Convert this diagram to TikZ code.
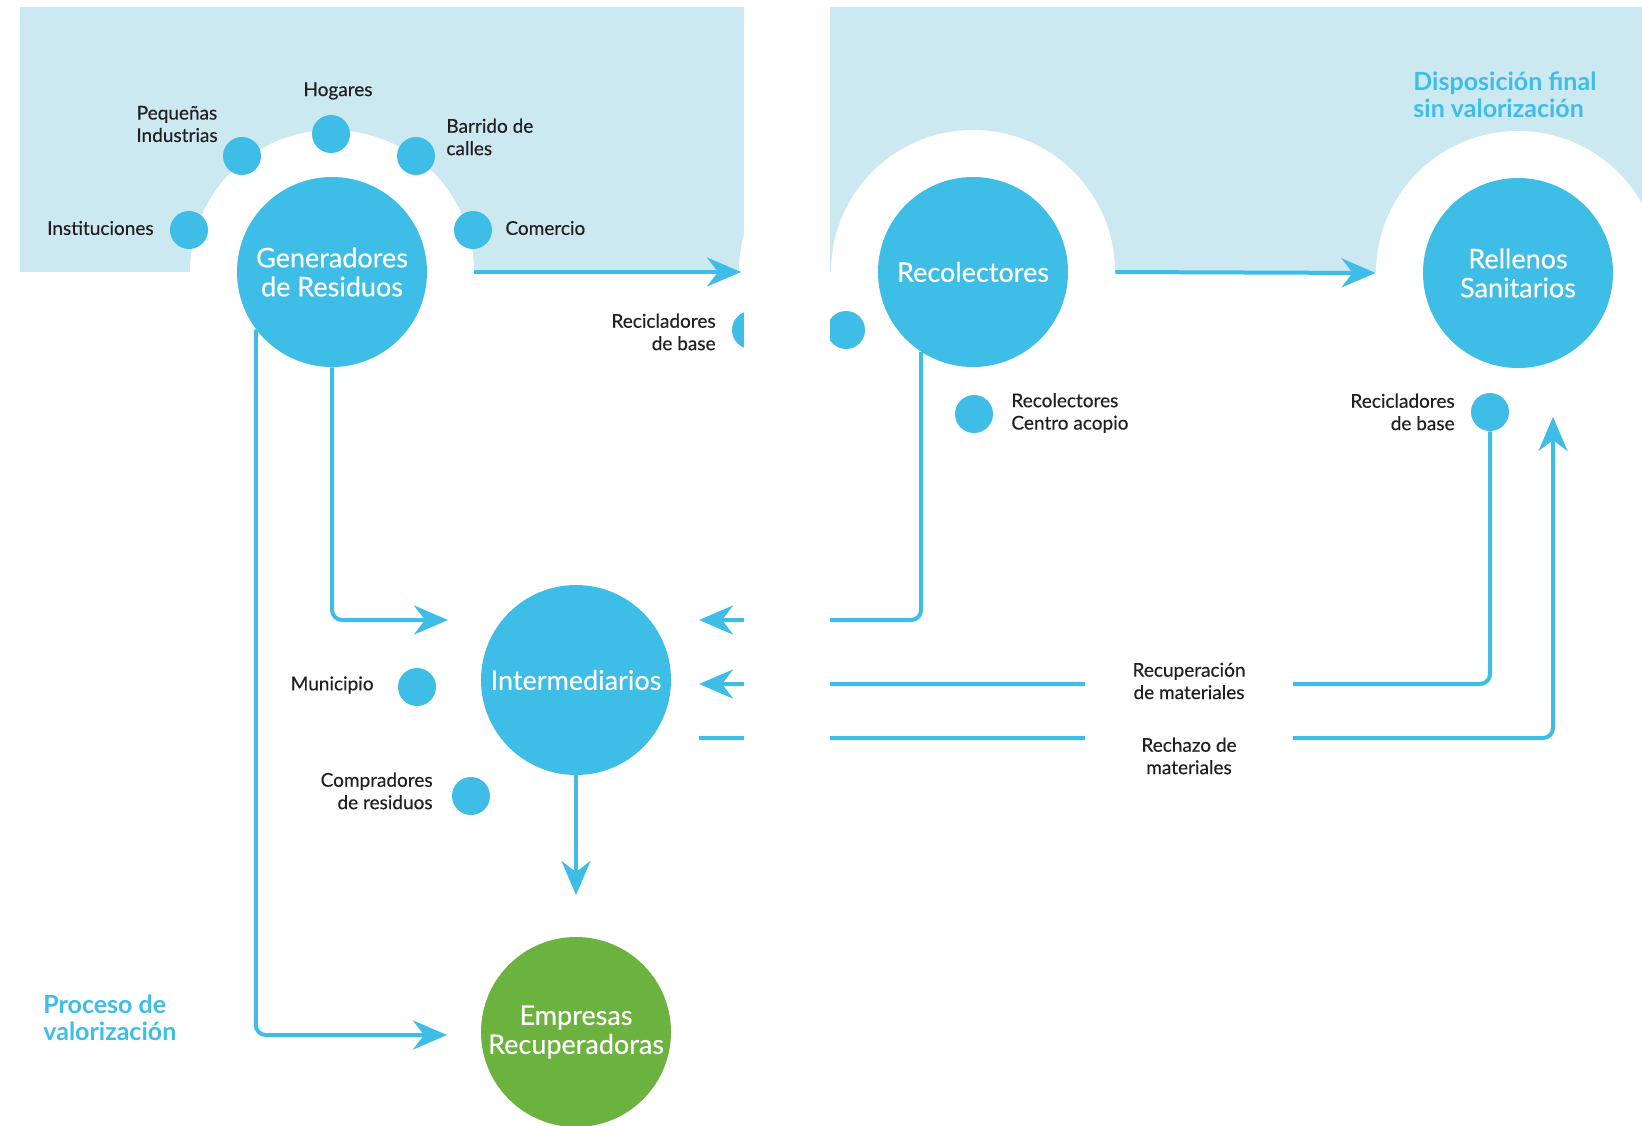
\documentclass[tikz,border=0pt]{standalone}
\usepackage{fontspec}
\setmainfont{Lato}
\newfontfamily\medfont{Lato}[FakeBold=0.35]
\usetikzlibrary{arrows.meta}

\definecolor{cblue}{RGB}{62,189,230}
\definecolor{cpale}{RGB}{204,233,242}
\definecolor{cgreen}{RGB}{108,178,63}
\definecolor{cink}{RGB}{35,31,32}

\tikzset{
  bigc/.style={circle,fill=cblue,minimum size=95pt,inner sep=0pt,text=white,align=center,font=\medfont\fontsize{13.5}{14.5}\selectfont},
  halo/.style={circle,fill=white,minimum size=142pt,inner sep=0pt},
  dot/.style={circle,fill=cblue,minimum size=19pt,inner sep=0pt},
  lbl/.style={inner sep=0pt,text=cink,font=\medfont\fontsize{9.5}{11.2}\selectfont},
  note/.style={inner sep=0pt,text=cblue,align=left,font=\bfseries\fontsize{12.5}{13.5}\selectfont},
  flow/.style={draw=cblue,line width=2pt,rounded corners=5pt,-{Stealth[length=17pt,width=14.5pt,inset=5.5pt]}}
}

\begin{document}
\begin{tikzpicture}[x=0.5pt,y=0.5pt,yscale=-1,xscale=1]
\useasboundingbox (0,0) rectangle (1642,1125);

%Shape: Rectangle
\fill[cpale] (20,7) rectangle (744,272);
%Shape: Rectangle
\fill[cpale] (830,7) rectangle (1642,272);

%Shape: Circle
\node[halo] (halo1) at (332,272) {};
\begin{scope}
\clip (20,7) rectangle (744,272);
%Shape: Circle
\node[halo] (halo0) at (881,272) {};
\end{scope}
%Shape: Circle
\node[halo] (halo2) at (973,272) {};
%Shape: Circle
\node[halo] (halo3) at (1518,273) {};

%Shape: Circle
\node[bigc] (gen) at (332,272) {Generadores\\de Residuos};
\node[bigc] (recol) at (973,272) {Recolectores};
\node[bigc] (rell) at (1518,273) {Rellenos\\Sanitarios};
\node[bigc] (inter) at (576,680) {Intermediarios};
\node[bigc,fill=cgreen] (emp) at (576,1032) {Empresas\\Recuperadoras};

%Shape: Circle
\node[dot] (inst) at (189,230) {};
\node[dot] (peq) at (242,156) {};
\node[dot] (hog) at (331,134) {};
\node[dot] (barr) at (416,156) {};
\node[dot] (com) at (473,230) {};
\node[dot] (recba) at (751,330) {};
\node[dot] (recbb) at (846,330) {};
\node[dot] (acop) at (974,414) {};
\node[dot] (muni) at (417,687) {};
\node[dot] (comp) at (471,796) {};
\node[dot] (recbc) at (1490,412) {};

\coordinate (genrec) at (741,272);
\coordinate (genint) at (448,620);
\coordinate (genemp) at (447,1035);
\coordinate (intemp) at (576,895);
\coordinate (recint) at (699,620);
\coordinate (recupint) at (699,684);
\coordinate (rechout) at (699,738);
\coordinate (rechin) at (1553,417);

%Straight Lines
\draw[flow] (halo1.east) -- (genrec);
\draw[flow] (halo2.east) -- (halo3.west);
\draw[flow] (gen.south) |- (genint);
\draw[flow] (gen.217) |- (genemp);
\draw[flow] (inter.south) -- (intemp);
\draw[flow] (recol.237) |- (recint);
\draw[flow] (recbc.south) |- (recupint);
\draw[flow] (rechout) -| (rechin);

% Text Node
\draw (338,91) node (hogtxt) [lbl] {Hogares};
% Text Node
\draw (177,124) node (peqtxt) [lbl,align=center] {Pequeñas\\Industrias};
% Text Node
\draw (446,137) node (barrtxt) [lbl,anchor=west,align=left] {Barrido de\\calles};
% Text Node
\draw (154,228) node (insttxt) [lbl,anchor=east] {Instituciones};
% Text Node
\draw (505,228) node (comtxt) [lbl,anchor=west] {Comercio};
% Text Node
\draw (716,332) node (recbatxt) [lbl,anchor=east,align=right] {Recicladores\\de base};
% Text Node
\draw (1011,413) node (acoptxt) [lbl,anchor=west,align=left] {Recolectores\\Centro acopio};
% Text Node
\draw (1455,412) node (recbctxt) [lbl,anchor=east,align=right] {Recicladores\\de base};
% Text Node
\draw (374,685) node (munitxt) [lbl,anchor=east] {Municipio};
% Text Node
\draw (433,791) node (comptxt) [lbl,anchor=east,align=right] {Compradores\\de residuos};
% Text Node
\draw (1189,681) node (recuptxt) [lbl,fill=white,minimum width=104pt,inner ysep=6pt,align=center] {Recuperación\\de materiales};
% Text Node
\draw (1189,756) node (rechtxt) [lbl,fill=white,minimum width=104pt,inner ysep=8pt,align=center] {Rechazo de\\materiales};
% Text Node
\draw (1413,95) node (disptxt) [note,anchor=west] {Disposición final\\sin valorización};
% Text Node
\draw (43,1018) node (proctxt) [note,anchor=west] {Proceso de\\valorización};

%Shape: Rectangle
\fill[white] (744,0) rectangle (830,1125);

\end{tikzpicture}
\end{document}
